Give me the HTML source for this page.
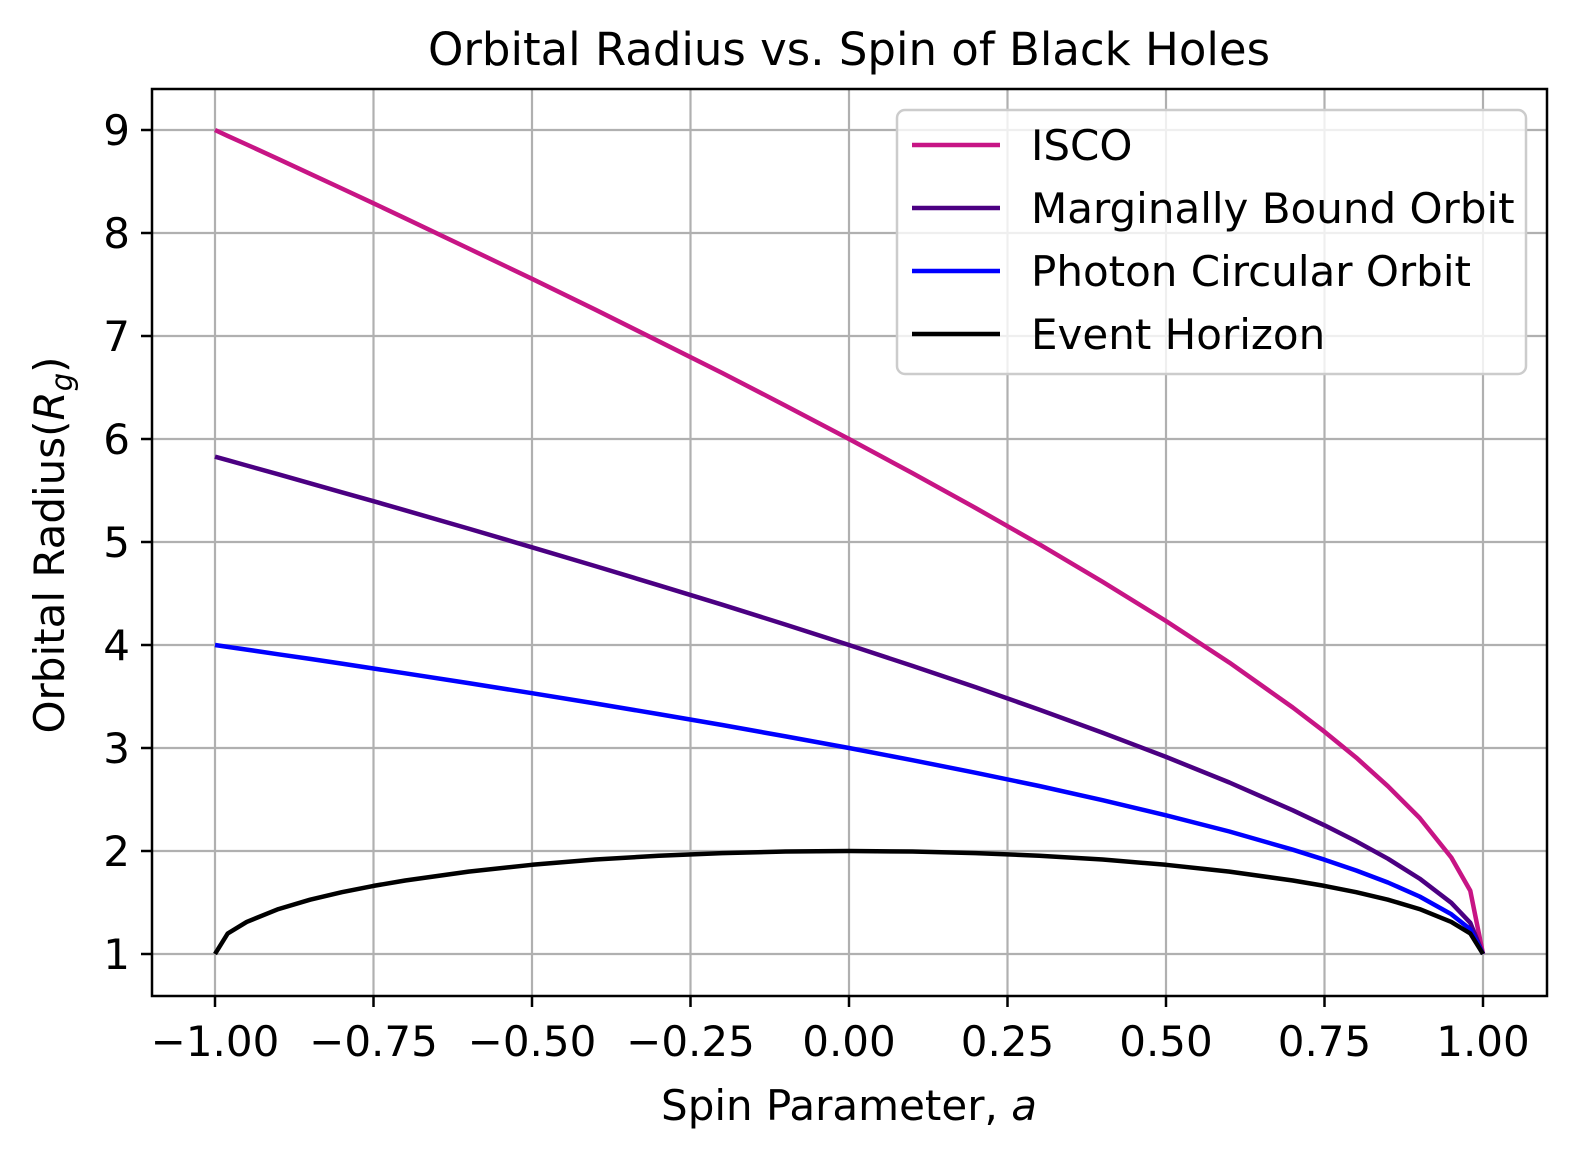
<!DOCTYPE html>
<html><head><meta charset="utf-8"><style>
html,body{margin:0;padding:0;background:#fff;}
svg text{font-family:"DejaVu Sans","Liberation Sans",sans-serif;fill:#000;}
</style></head><body>
<svg id="chart" width="1577" height="1159" viewBox="0 0 1577 1159" xmlns="http://www.w3.org/2000/svg">
<rect width="1577" height="1159" fill="#fff"/>
<g id="grid"></g>
<g id="series"></g>
<rect x="152" y="89" width="1395" height="907" fill="none" stroke="#000" stroke-width="2.5"/>
<g id="ticks"></g>
<text x="849" y="65" font-size="45" text-anchor="middle">Orbital Radius vs. Spin of Black Holes</text>
<text x="849" y="1120" font-size="42" text-anchor="middle">Spin Parameter, <tspan font-style="italic">a</tspan></text>
<text transform="translate(64,545) rotate(-90)" font-size="42" text-anchor="middle">Orbital Radius(<tspan font-style="italic">R</tspan><tspan font-style="italic" font-size="29" dy="8">g</tspan><tspan dy="-8">)</tspan></text>
<g id="legend"></g>
</svg>
<script>
const spins = [-1,-0.98,-0.95,-0.9,-0.85,-0.8,-0.75,-0.7,-0.6,-0.5,-0.4,-0.3,-0.2,-0.1,0,0.1,0.2,0.3,0.4,0.5,0.6,0.7,0.75,0.8,0.85,0.9,0.95,0.98,1];
const iscoValues = [9,8.943,8.859,8.717,8.575,8.432,8.288,8.143,7.850,7.555,7.255,6.949,6.641,6.323,6,5.669,5.329,4.979,4.614,4.233,3.829,3.393,3.158,2.907,2.629,2.321,1.937,1.614,1];
const boundValues = [5.828,5.794,5.743,5.657,5.570,5.483,5.396,5.308,5.130,4.949,4.766,4.580,4.391,4.198,4,3.797,3.589,3.373,3.149,2.914,2.665,2.395,2.25,2.094,1.925,1.732,1.497,1.303,1];
const photonValues = [4,3.982,3.955,3.910,3.865,3.819,3.772,3.725,3.630,3.532,3.432,3.329,3.223,3.113,3,2.882,2.759,2.631,2.493,2.347,2.189,2.013,1.916,1.811,1.694,1.558,1.386,1.240,1];
const horizonValues = [1,1.199,1.312,1.436,1.527,1.6,1.661,1.714,1.8,1.866,1.917,1.954,1.980,1.995,2,1.995,1.980,1.954,1.917,1.866,1.8,1.714,1.661,1.6,1.527,1.436,1.312,1.199,1];
const xTicks = [-1,-0.75,-0.5,-0.25,0,0.25,0.5,0.75,1];
const xTickLabels = ["\u22121.00","\u22120.75","\u22120.50","\u22120.25","0.00","0.25","0.50","0.75","1.00"];
const yTicks = [1,2,3,4,5,6,7,8,9];
const seriesNames = ["ISCO","Marginally Bound Orbit","Photon Circular Orbit","Event Horizon"];

const NS="http://www.w3.org/2000/svg";
const L=152,R=1547,T=89,B=996;
function xs(v){return 849+v*634;}
function ys(v){return 954-(v-1)*103;}
function mk(tag,attrs,parent){const e=document.createElementNS(NS,tag);for(const k in attrs)e.setAttribute(k,attrs[k]);parent.appendChild(e);return e;}
const grid=document.getElementById('grid'),ticks=document.getElementById('ticks'),ser=document.getElementById('series'),leg=document.getElementById('legend');
xTicks.forEach((t,i)=>{
  const x=xs(t);
  const g=mk('line',{x1:x,x2:x,y1:T,y2:B,stroke:'#b0b0b0','stroke-width':2.2},grid);
  
  
  const tk=mk('line',{x1:x,x2:x,y1:B,y2:B+11,stroke:'#000','stroke-width':2.5},ticks);
  
  
  const tx=mk('text',{x:x,y:B+60,'font-size':42,'text-anchor':'middle'},ticks);
  tx.textContent=xTickLabels[i];
  
  
});
yTicks.forEach(t=>{
  const y=ys(t);
  const g=mk('line',{x1:L,x2:R,y1:y,y2:y,stroke:'#b0b0b0','stroke-width':2.2},grid);
  
  
  const tk=mk('line',{x1:L-11,x2:L,y1:y,y2:y,stroke:'#000','stroke-width':2.5},ticks);
  
  
  const tx=mk('text',{x:L-22,y:y+15,'font-size':42,'text-anchor':'end'},ticks);
  tx.textContent=String(t);
  
  
});
const colors=['#c71585','#4b0082','#0000ff','#000000'];
const data=[iscoValues,boundValues,photonValues,horizonValues];
const names=['isco-line','marginally-bound-line','photon-orbit-line','event-horizon-line'];
data.forEach((vals,i)=>{
  const d=vals.map((v,j)=>(j?'L':'M')+xs(spins[j]).toFixed(1)+' '+ys(v).toFixed(1)).join(' ');
  const p=mk('path',{d:d,fill:'none',stroke:colors[i],'stroke-width':4.5,'stroke-linejoin':'round'},ser);
  
  
});
const box=mk('rect',{x:897,y:110,width:629,height:264,rx:8,fill:'#fff','fill-opacity':0.8,stroke:'#cccccc','stroke-width':2.5},leg);


seriesNames.forEach((n,i)=>{
  const y=145+i*63;
  const ln=mk('line',{x1:912,x2:1000,y1:y,y2:y,stroke:colors[i],'stroke-width':4.5},leg);
  
  
  const tx=mk('text',{x:1031,y:y+15,'font-size':42},leg);
  tx.textContent=n;
  
  
});
</script>
</body></html>
